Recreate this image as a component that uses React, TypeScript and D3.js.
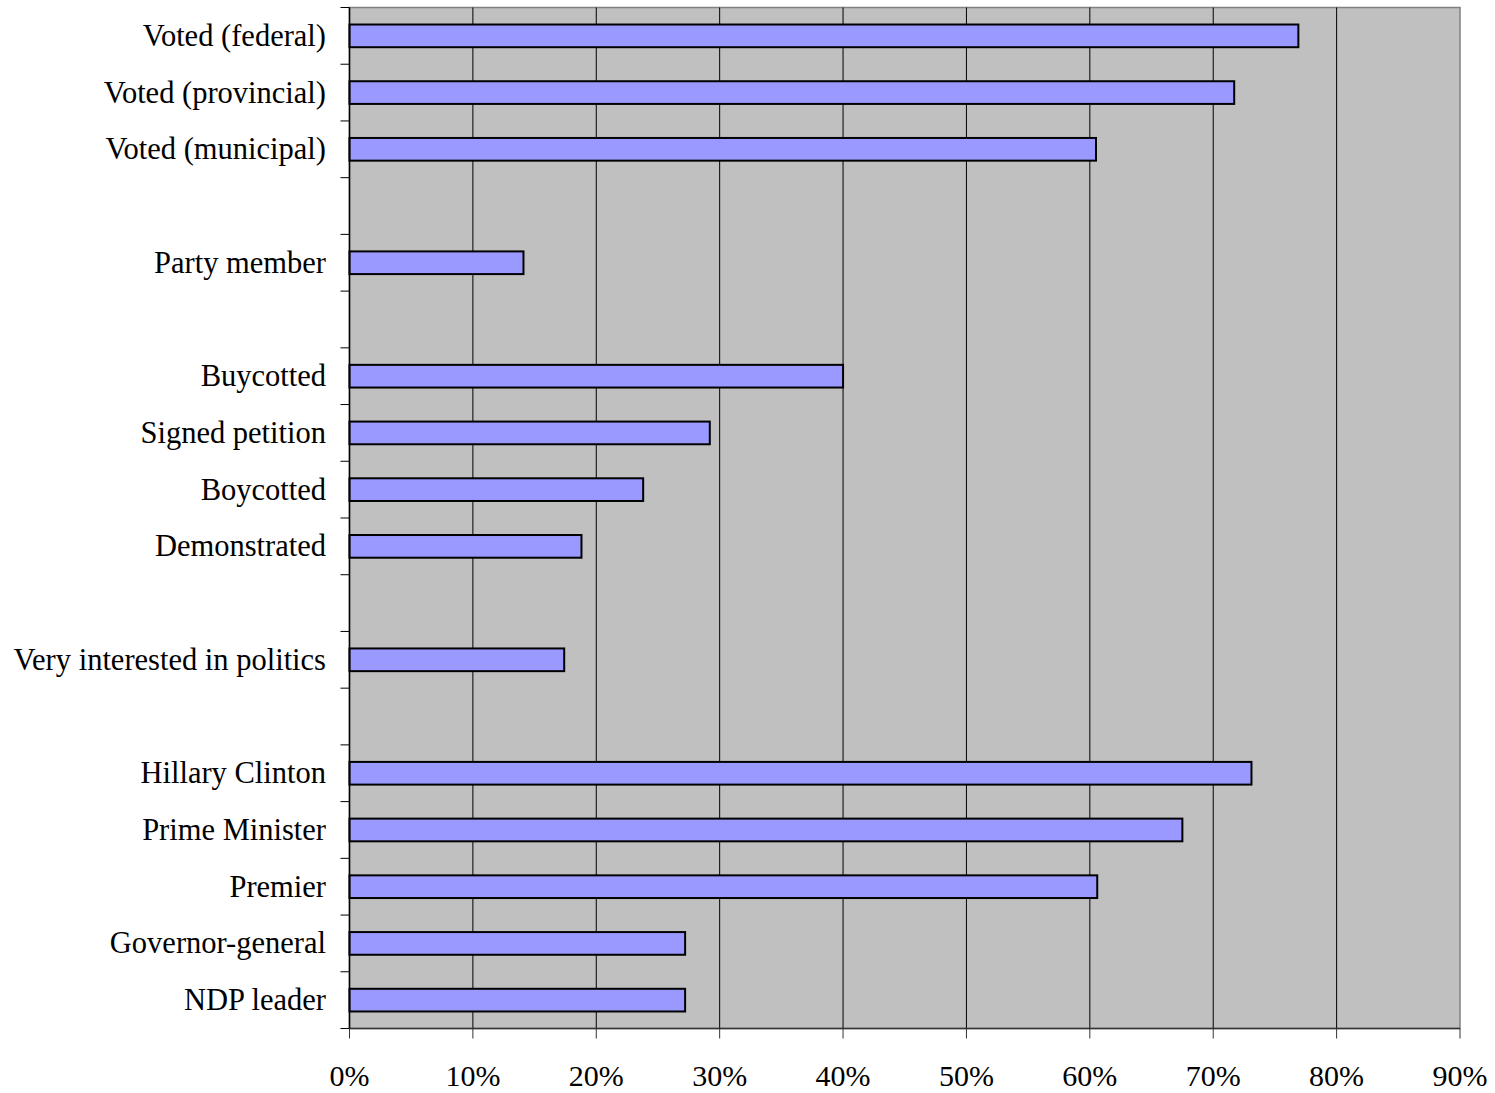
import React, { useEffect, useRef } from "react";
import * as d3 from "d3";

const categories = [
  "Voted (federal)",
  "Voted (provincial)",
  "Voted (municipal)",
  "",
  "Party member",
  " ",
  "Buycotted",
  "Signed petition",
  "Boycotted",
  "Demonstrated",
  "  ",
  "Very interested in politics",
  "   ",
  "Hillary Clinton",
  "Prime Minister",
  "Premier",
  "Governor-general",
  "NDP leader",
];
const values: (number | null)[] = [
  76.9, 71.7, 60.5, null, 14.1, null, 40.0, 29.2, 23.8, 18.8, null, 17.4, null, 73.1, 67.5, 60.6, 27.2, 27.2,
];
const xTicks = [0, 10, 20, 30, 40, 50, 60, 70, 80, 90];

export default function App() {
  const ref = useRef<SVGSVGElement>(null);
  useEffect(() => {
    const svg = d3.select(ref.current);
    svg.selectAll("*").remove();
    const left = 349.5, right = 1460, top = 7.5, bottom = 1028.5;
    const x = d3.scaleLinear().domain([0, 90]).range([left, right]);
    const y = d3.scaleBand().domain(categories).range([top, bottom]).paddingInner(0.6).paddingOuter(0.3);
    const slot = (bottom - top) / categories.length;
    const font = "'Liberation Serif', 'Times New Roman', serif";

    svg.append("rect").attr("x", left).attr("y", top).attr("width", right - left).attr("height", bottom - top)
      .attr("fill", "#C0C0C0").attr("stroke", "#808080").attr("stroke-width", 1.5);

    svg.selectAll(".grid").data(xTicks.slice(1, -1)).enter().append("line")
      .attr("x1", (d) => x(d)).attr("x2", (d) => x(d)).attr("y1", top).attr("y2", bottom)
      .attr("stroke", "#000").attr("stroke-width", 1);

    svg.selectAll(".bar").data(values.map((v, i) => ({ v, c: categories[i] })).filter((d) => d.v !== null))
      .enter().append("rect")
      .attr("x", x(0)).attr("y", (d) => y(d.c)!)
      .attr("width", (d) => x(d.v as number) - x(0)).attr("height", y.bandwidth())
      .attr("fill", "#9999FF").attr("stroke", "#000").attr("stroke-width", 2);

    // axes lines
    svg.append("line").attr("x1", left).attr("x2", left).attr("y1", top).attr("y2", bottom).attr("stroke", "#000").attr("stroke-width", 1.5);
    svg.append("line").attr("x1", left).attr("x2", right).attr("y1", bottom).attr("y2", bottom).attr("stroke", "#333").attr("stroke-width", 1.5);

    // y ticks
    d3.range(categories.length + 1).forEach((i) => {
      const yy = top + i * slot;
      svg.append("line").attr("x1", left - 9).attr("x2", left).attr("y1", yy).attr("y2", yy).attr("stroke", "#000").attr("stroke-width", 1);
    });
    svg.selectAll(".ylab").data(categories).enter().append("text")
      .attr("x", 326).attr("y", (d) => y(d)! + y.bandwidth() / 2)
      .attr("text-anchor", "end").attr("dominant-baseline", "central")
      .attr("font-family", font).attr("font-size", 30.5).attr("fill", "#000")
      .text((d) => d.trim());

    // x ticks
    svg.selectAll(".xt").data(xTicks).enter().append("line")
      .attr("x1", (d) => x(d)).attr("x2", (d) => x(d)).attr("y1", bottom).attr("y2", bottom + 10)
      .attr("stroke", "#333").attr("stroke-width", 1);
    svg.selectAll(".xl").data(xTicks).enter().append("text")
      .attr("x", (d) => x(d)).attr("y", 1086)
      .attr("text-anchor", "middle")
      .attr("font-family", font).attr("font-size", 30).attr("fill", "#000")
      .text((d) => `${d}%`);
  }, []);
  return (
    <svg ref={ref} width={1495} height={1093} style={{ position: "absolute", left: 0, top: 0, background: "#fff" }} />
  );
}
